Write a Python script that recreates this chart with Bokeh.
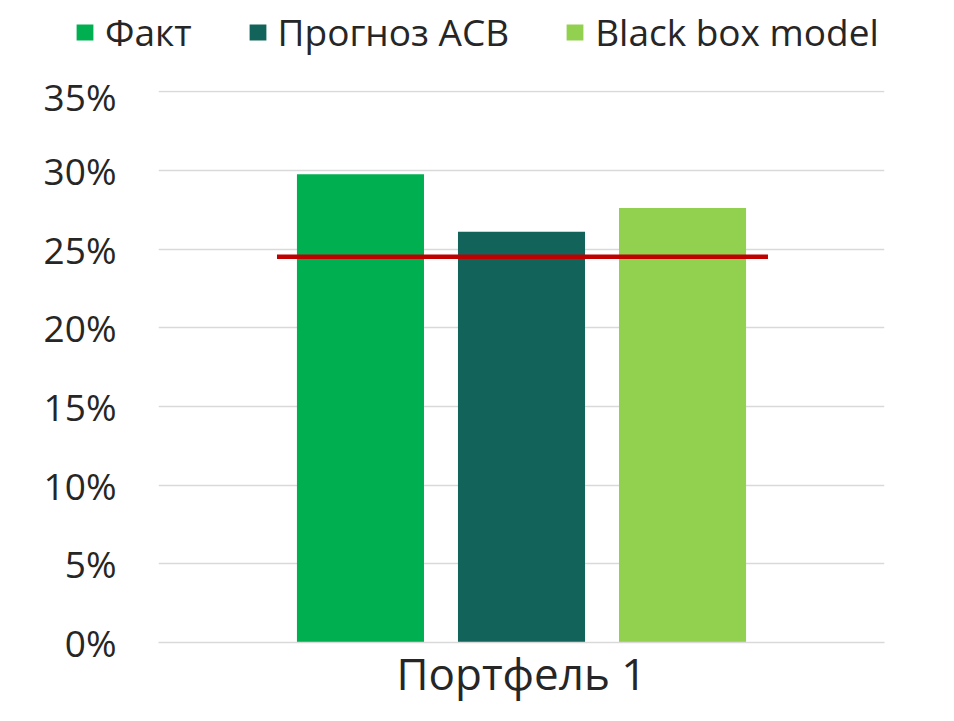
from bokeh.plotting import figure
from bokeh.layouts import column
from bokeh.models import ColumnDataSource, FactorRange, Range1d, NumeralTickFormatter, Legend, LegendItem
from bokeh.transform import dodge
from bokeh.embed import file_html
from bokeh.resources import INLINE

categories = ["Портфель 1"]
series_names = ["Факт", "Прогноз АСВ", "Black box model"]
fact = [0.2975]
forecast_acb = [0.261]
black_box = [0.276]
threshold = [0.245]
y_ticks = [0.0, 0.05, 0.10, 0.15, 0.20, 0.25, 0.30, 0.35]

colors = ["#00B050", "#12645A", "#92D050"]
FONT = "Open Sans"
TEXT = "#262626"

src = ColumnDataSource(dict(cat=categories, fact=fact, acb=forecast_acb, bbm=black_box, thr=threshold))
series_cols = ["fact", "acb", "bbm"]

# ---- legend strip (top); its bars lie outside its visible y range ----
leg = figure(width=938, height=70, x_range=FactorRange(*categories), y_range=Range1d(10, 11),
             output_backend="svg", toolbar_location=None,
             min_border_left=0, min_border_right=0, min_border_top=0, min_border_bottom=0)
leg.axis.visible = False
leg.grid.grid_line_color = None
leg.outline_line_color = None
lr = [leg.vbar(x="cat", top=col, width=0.1, source=src, color=c, line_color=None)
      for col, c in zip(series_cols, colors)]
legend = Legend(items=[LegendItem(label=n, renderers=[r]) for n, r in zip(series_names, lr)],
                orientation="horizontal", location=(74, 13))
legend.label_text_font = FONT
legend.label_text_font_size = "37px"
legend.label_text_color = TEXT
legend.glyph_width = 21
legend.glyph_height = 20
legend.label_standoff = 10
legend.spacing = 55
legend.border_line_color = None
legend.background_fill_alpha = 0
legend.padding = 0
legend.margin = 0
leg.add_layout(legend, "center")

# ---- main chart ----
p = figure(x_range=FactorRange(*categories, range_padding=0), y_range=Range1d(0, 0.3507),
           width=938, height=635, output_backend="svg", toolbar_location=None,
           min_border_left=158, min_border_right=54, min_border_top=20, min_border_bottom=63)
p.outline_line_color = None

bw = 0.175
off = 0.2218
for col, c, o in zip(series_cols, colors, [-off, 0, off]):
    p.vbar(x=dodge("cat", o, range=p.x_range), top=col, width=bw, source=src, color=c, line_color=None)
p.segment(x0=dodge("cat", -0.3368, range=p.x_range), x1=dodge("cat", 0.3395, range=p.x_range),
          y0="thr", y1="thr", source=src, line_color="#C00000", line_width=4.5)

p.yaxis.ticker = y_ticks
p.yaxis.formatter = NumeralTickFormatter(format="0%")
p.yaxis.axis_line_color = None
p.yaxis.major_tick_line_color = None
p.yaxis.minor_tick_line_color = None
p.yaxis.major_label_text_font = FONT
p.yaxis.major_label_text_font_size = "37px"
p.yaxis.major_label_text_color = TEXT
p.yaxis.major_label_standoff = 36

p.xaxis.axis_line_color = "#d9d9d9"
p.xaxis.axis_line_width = 1.5
p.xaxis.major_tick_line_color = None
p.xaxis.minor_tick_line_color = None
p.xaxis.major_tick_out = 0
p.xaxis.major_tick_in = 0
p.xaxis.major_label_text_font = FONT
p.xaxis.major_label_text_font_size = "44px"
p.xaxis.major_label_text_color = TEXT
p.xaxis.major_label_standoff = 0

p.xgrid.grid_line_color = None
p.ygrid.grid_line_color = "#d9d9d9"
p.ygrid.grid_line_width = 1.5
p.ygrid.ticker = y_ticks

layout = column(column(leg), p, spacing=0)
open("out.html", "w").write(file_html(layout, INLINE))
